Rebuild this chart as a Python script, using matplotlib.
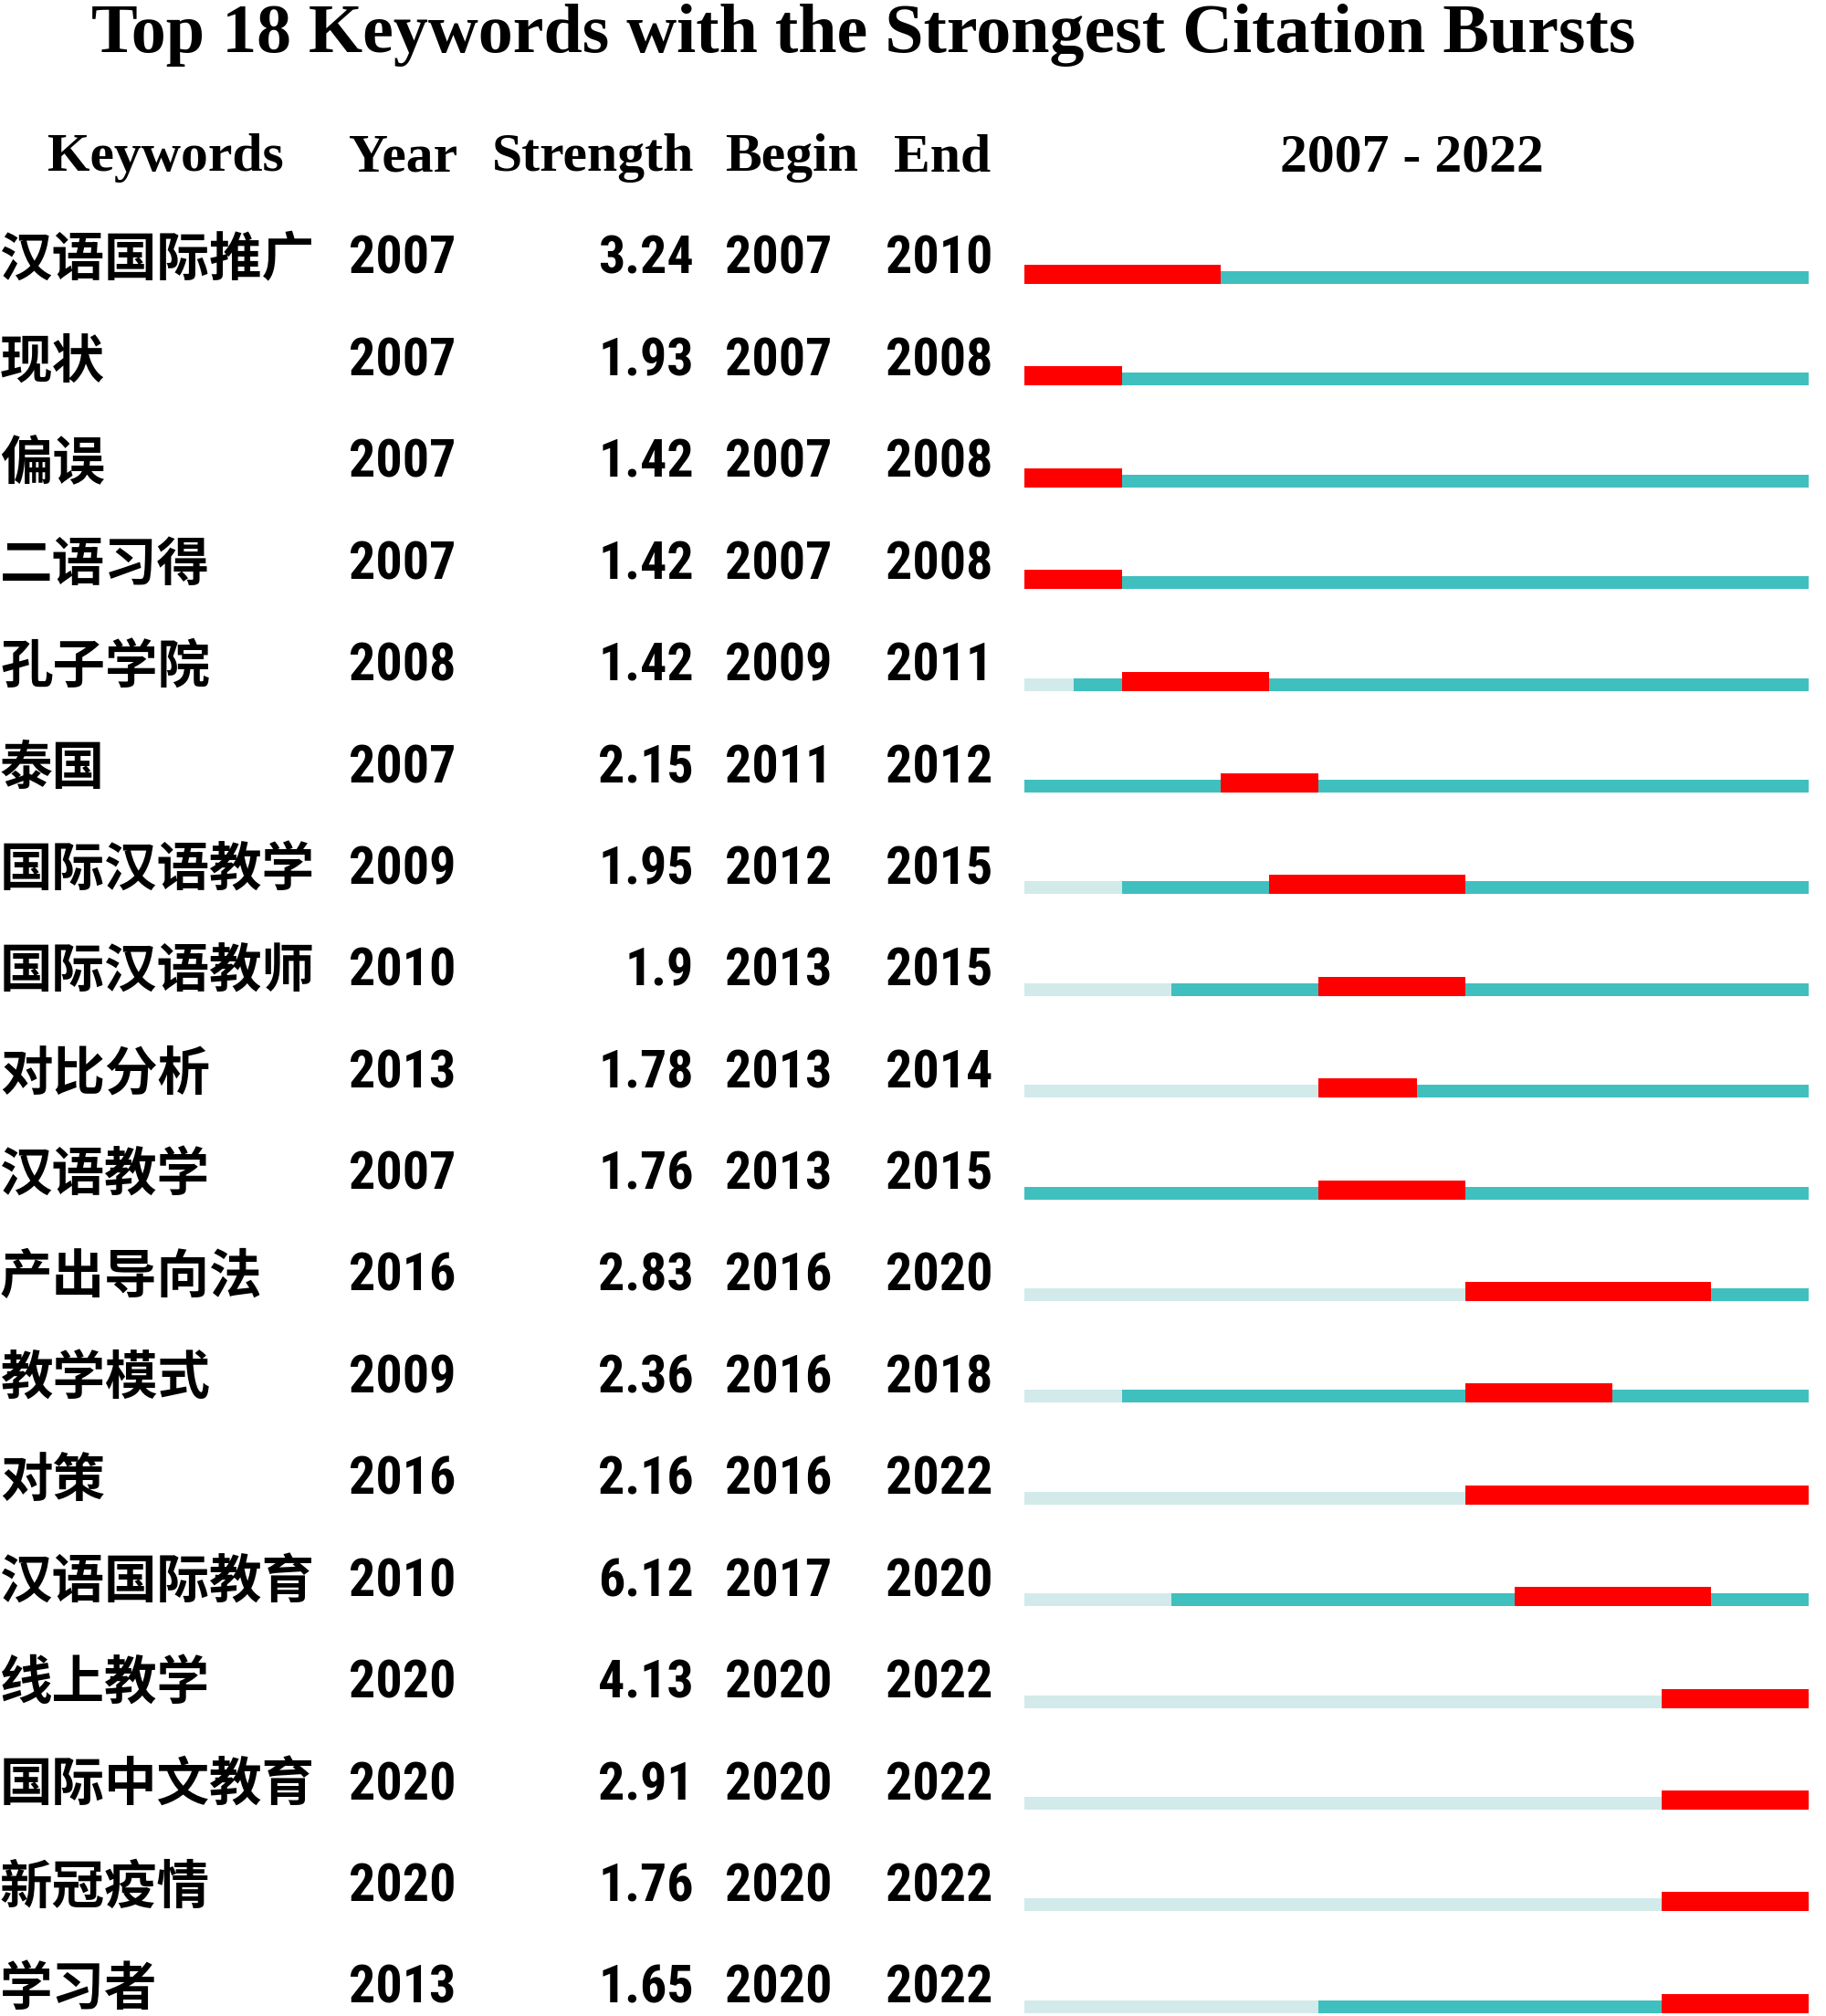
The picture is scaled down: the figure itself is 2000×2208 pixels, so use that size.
import matplotlib
matplotlib.use('Agg')
import matplotlib.pyplot as plt
from matplotlib import font_manager as fm

# ---------------- data ----------------
keywords = ["汉语国际推广", "现状", "偏误", "二语习得", "孔子学院", "泰国",
            "国际汉语教学", "国际汉语教师", "对比分析", "汉语教学", "产出导向法",
            "教学模式", "对策", "汉语国际教育", "线上教学", "国际中文教育",
            "新冠疫情", "学习者"]
first_year = [2007, 2007, 2007, 2007, 2008, 2007, 2009, 2010, 2013, 2007,
              2016, 2009, 2016, 2010, 2020, 2020, 2020, 2013]
strength = ["3.24", "1.93", "1.42", "1.42", "1.42", "2.15", "1.95", "1.9",
            "1.78", "1.76", "2.83", "2.36", "2.16", "6.12", "4.13", "2.91",
            "1.76", "1.65"]
begin = [2007, 2007, 2007, 2007, 2009, 2011, 2012, 2013, 2013, 2013,
         2016, 2016, 2016, 2017, 2020, 2020, 2020, 2020]
end = [2010, 2008, 2008, 2008, 2011, 2012, 2015, 2015, 2014, 2015,
       2020, 2018, 2022, 2020, 2022, 2022, 2022, 2022]
span_start, span_end = 2007, 2022
title = "Top 18 Keywords with the Strongest Citation Bursts"
headers = ["Keywords", "Year", "Strength", "Begin", "End", "2007 - 2022"]

# ---------------- fonts ----------------
avail = {f.name for f in fm.fontManager.ttflist}
def pick(cands, default):
    for c in cands:
        if c in avail:
            return c
    return default
num_font = pick(['Liberation Sans Narrow', 'DejaVu Sans Condensed', 'Roboto Condensed'], 'DejaVu Sans')
serif_font = pick(['Liberation Serif', 'DejaVu Serif'], 'serif')
cjk_font = 'Noto Sans CJK SC'

RED = '#FF0000'
TEAL = '#40BFBF'
LIGHT = '#D2EAEA'

W, H = 2000, 2208
fig = plt.figure(figsize=(W / 100, H / 100), dpi=100)
ax = fig.add_axes([0, 0, 1, 1])
ax.set_xlim(0, W)
ax.set_ylim(H, 0)
ax.axis('off')
renderer = fig.canvas.get_renderer()

def fit_size(s, width, **kw):
    t = ax.text(0, 0, s, fontsize=20, **kw)
    w = t.get_window_extent(renderer).width
    t.remove()
    return 20 * width / w

# layout
base0 = 300.0     # baseline of first row text (px)
dy = 111.4        # row pitch (px)
n = len(keywords)

# title
ts = fit_size(title, 1690, family=serif_font, weight='bold')
ax.text(946, 57, title, fontsize=ts, family=serif_font, weight='bold',
        ha='center', va='baseline')

# headers
hs = fit_size("Strength", 221, family=serif_font, weight='bold')
hdr_y = 187
hdr_x = [(52, 'left'), (382, 'left'), (760, 'right'), (794, 'left'), (979, 'left'), (1546, 'center')]
for (x, ha), s in zip(hdr_x, headers):
    ax.text(x, hdr_y, s, fontsize=hs, family=serif_font, weight='bold', ha=ha, va='baseline')

# table cells
ns = fit_size("2007", 117, family=num_font, weight='bold')
cs = fit_size(keywords[0], 345, family=[cjk_font, 'DejaVu Sans'], weight='bold')
for i in range(n):
    yb = base0 + i * dy
    ax.text(0, yb + 2, keywords[i], fontsize=cs, family=[cjk_font, 'DejaVu Sans'],
            weight='bold', ha='left', va='baseline')
    ax.text(382, yb, str(first_year[i]), fontsize=ns, family=num_font, weight='bold',
            ha='left', va='baseline')
    ax.text(760, yb, strength[i], fontsize=ns, family=num_font, weight='bold',
            ha='right', va='baseline')
    ax.text(794, yb, str(begin[i]), fontsize=ns, family=num_font, weight='bold',
            ha='left', va='baseline')
    ax.text(970, yb, str(end[i]), fontsize=ns, family=num_font, weight='bold',
            ha='left', va='baseline')

# bars axes: x in years, y in row index
x0, x1 = 1122, 1981
c0 = 304.0  # pixel centre of first teal strip
bax = fig.add_axes([x0 / W, 0, (x1 - x0) / W, 1])
bax.set_xlim(span_start, span_end + 1)
bax.set_ylim((H - c0) / dy, -c0 / dy)
bax.axis('off')

th = 14 / dy      # teal strip thickness (rows)
rh = 21 / dy      # red strip thickness (rows)
roff = -(rh - th) / 2  # align bottoms
for i in range(n):
    fy, b, e = first_year[i], begin[i], end[i]
    if fy > span_start:
        bax.barh(i, fy - span_start, left=span_start, height=th, color=LIGHT, linewidth=0)
    if b > fy:
        bax.barh(i, b - fy, left=fy, height=th, color=TEAL, linewidth=0)
    if e + 1 <= span_end:
        bax.barh(i, span_end + 1 - (e + 1), left=e + 1, height=th, color=TEAL, linewidth=0)
    bax.barh(i + roff, e + 1 - b, left=b, height=rh, color=RED, linewidth=0)

fig.savefig('out.png', dpi=100, facecolor='white')
